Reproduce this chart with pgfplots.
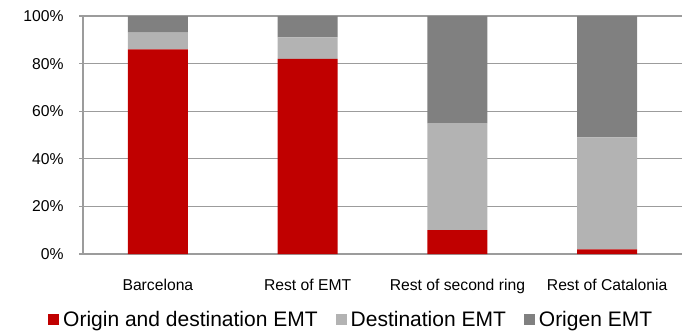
\documentclass[border=0pt]{standalone}
\usepackage{pgfplots}
\pgfplotsset{compat=1.18}
\usepackage{fontspec}
\setmainfont{Liberation Sans}

\definecolor{odred}{HTML}{C00000}
\definecolor{destgray}{HTML}{B3B3B3}
\definecolor{origgray}{HTML}{808080}
\definecolor{gridgray}{HTML}{9C9C9C}

\begin{document}
\begin{tikzpicture}[x=1bp,y=1bp]
\path[use as bounding box] (0,0) rectangle (687,-332);
\begin{axis}[
  at={(83bp,-16bp)}, anchor=north west,
  scale only axis, width=599bp, height=238bp,
  ybar stacked, bar width=60bp,
  xmin=-0.5, xmax=3.5, ymin=0, ymax=100,
  axis x line=bottom, axis y line=left,
  axis line style={-, draw=gridgray, line width=1.2bp},
  ymajorgrids, grid style={draw=gridgray, line width=1.2bp},
  ytick={0,20,40,60,80,100},
  yticklabels={0\%,20\%,40\%,60\%,80\%,100\%},
  xtick={0,1,2,3},
  xticklabels={Barcelona,Rest of EMT,Rest of second ring,Rest of Catalonia},
  x tick style={draw=none},
  y tick style={draw=gridgray, line width=1.2bp},
  major tick length=4bp,
  tick align=outside,
  extra x ticks={-0.5,0.5,1.5,2.5,3.5},
  extra x tick labels={},
  extra x tick style={tick style={draw=gridgray, line width=1.2bp}, major tick length=5bp},
  tick label style={font=\fontsize{15.7bp}{18bp}\selectfont, text=black},
  xticklabel style={yshift=-18bp},
  yticklabel style={xshift=-12bp},
  legend columns=3,
  legend style={at={(axis description cs:-0.0584,-0.277)}, anchor=west,
    draw=none, fill=none, inner sep=0pt,
    font=\fontsize{21bp}{24bp}\selectfont,
    nodes={inner sep=0pt},
    /tikz/every even column/.append style={column sep=18bp}},
  legend image code/.code={\fill[#1] (0bp,-5.5bp) rectangle (11bp,5.5bp);},
  legend cell align=left,
]
\addplot[fill=odred, draw=none] coordinates {(0,86) (1,82) (2,10) (3,2)};
\addplot[fill=destgray, draw=none] coordinates {(0,7) (1,9) (2,45) (3,47)};
\addplot[fill=origgray, draw=none] coordinates {(0,7) (1,9) (2,45) (3,51)};
\legend{\hspace{4bp}Origin and destination EMT,\hspace{4bp}Destination EMT,\hspace{4bp}Origen EMT}
\end{axis}
\end{tikzpicture}
\end{document}
